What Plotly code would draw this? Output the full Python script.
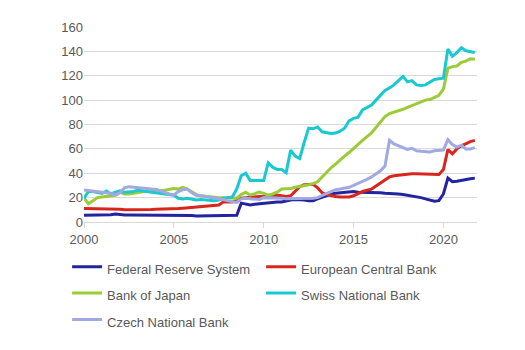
import plotly.graph_objects as go

# Quarterly observations, 2000 Q1 .. 2021 Q4 (central bank assets, % of GDP)
quarters = [2000 + q / 4 for q in range(88)]

fed = [5.5, 5.5, 5.5, 5.5, 5.5, 5.5, 6.0, 6.5, 6.0, 5.8, 5.8, 5.8,
       5.8, 5.8, 5.8, 5.8, 5.8, 5.8, 5.8, 5.8, 5.7, 5.7, 5.7, 5.7,
       5.3, 5.0, 5.0, 5.0, 5.2, 5.0, 5.0, 5.0, 5.0, 5.0, 5.5, 15.5,
       14.5, 14.0, 14.5, 15.0, 15.0, 15.5, 16.0, 16.5, 16.5, 17.5, 18.0, 18.5,
       18.5, 18.0, 17.5, 17.5, 19.0, 20.5, 22.0, 23.0, 23.5, 24.0, 24.5, 25.0,
       25.0, 24.5, 24.5, 24.5, 24.5, 24.0, 24.0, 23.5, 23.5, 23.0, 23.0, 22.5,
       22.0, 21.5, 21.0, 20.0, 19.0, 18.0, 17.0, 17.5, 23.0, 36.0, 33.0, 33.5,
       34.3, 35.0, 35.5, 36.0]

ecb = [11.0, 11.0, 11.0, 11.0, 11.0, 11.0, 11.0, 10.5, 10.5, 10.0, 10.0, 9.8,
       10.0, 10.2, 10.2, 10.2, 10.5, 10.5, 10.8, 10.5, 10.8, 11.0, 11.3, 11.6,
       12.0, 12.3, 12.6, 12.9, 13.2, 13.5, 14.0, 16.5, 16.5, 16.5, 17.5, 19.5,
       20.0, 20.5, 21.0, 21.0, 21.0, 21.5, 21.5, 22.0, 21.5, 21.0, 21.5, 25.0,
       29.0, 30.5, 31.0, 31.0, 28.0, 24.0, 22.5, 21.5, 21.0, 20.5, 20.2, 20.5,
       21.5, 23.5, 25.0, 26.0, 27.0, 29.5, 32.0, 34.5, 37.0, 38.0, 38.5, 39.0,
       39.5, 39.5, 39.5, 39.5, 39.5, 39.5, 39.0, 39.0, 43.0, 59.5, 56.0, 60.0,
       62.5, 64.5, 66.0, 67.0]

boj = [19.5, 15.0, 17.5, 20.0, 20.5, 21.0, 21.5, 22.0, 24.5, 23.0, 23.0, 23.5,
       24.5, 25.0, 25.0, 25.5, 26.5, 25.5, 26.0, 27.0, 27.5, 27.0, 28.5, 27.0,
       24.5, 22.5, 21.5, 21.0, 20.5, 20.0, 20.0, 20.0, 20.0, 20.0, 19.5, 22.5,
       24.5, 22.0, 23.0, 24.5, 23.5, 22.0, 23.0, 24.5, 27.0, 27.0, 27.5, 28.5,
       29.0, 29.5, 30.5, 31.5, 33.0, 37.0, 41.0, 44.5, 47.5, 51.0, 54.0, 57.0,
       60.5, 64.0, 67.0, 70.0, 73.0, 77.5, 82.0, 86.5, 89.0, 90.0, 91.0, 92.5,
       94.0, 95.5, 97.5, 99.0, 100.0, 100.5, 102.0, 104.0, 109.0, 126.0, 127.5, 128.0,
       131.0, 132.0, 134.0, 133.5]

snb = [19.5, 25.0, 25.0, 24.0, 23.5, 25.5, 23.0, 24.5, 25.5, 24.5, 24.5, 25.0,
       26.0, 25.5, 25.5, 25.0, 24.5, 23.5, 23.5, 23.0, 22.0, 19.5, 18.8, 19.5,
       18.5, 18.0, 18.5, 18.0, 17.8, 17.5, 18.0, 19.5, 20.0, 20.5, 27.0, 38.0,
       40.0, 34.0, 34.0, 34.0, 34.0, 48.5, 45.0, 43.0, 43.0, 40.5, 59.0, 54.0,
       52.0, 65.0, 77.0, 76.5, 78.0, 74.0, 73.0, 72.6, 73.0, 74.5, 77.0, 83.0,
       85.0, 86.0, 92.0, 94.0, 96.0, 100.0, 104.0, 108.0, 110.0, 112.5, 116.0, 119.5,
       115.0, 116.0, 112.5, 112.0, 112.5, 114.5, 117.0, 117.5, 118.0, 142.0, 136.0, 139.0,
       143.0, 140.5, 139.5, 139.0]

cnb = [26.3, 26.0, 25.5, 25.0, 24.5, 24.0, 23.0, 22.5, 24.0, 28.0, 29.0, 28.5,
       28.0, 27.5, 27.0, 27.0, 26.8, 25.5, 24.0, 23.0, 22.2, 25.0, 26.5, 27.0,
       24.0, 22.0, 21.5, 21.0, 20.5, 20.0, 19.5, 18.5, 17.5, 16.5, 16.0, 19.0,
       19.5, 19.0, 18.5, 18.5, 20.0, 20.0, 20.0, 19.5, 19.5, 19.0, 19.0, 19.5,
       19.5, 19.5, 19.5, 19.5, 20.0, 22.0, 23.5, 25.0, 26.5, 27.0, 27.5, 28.5,
       30.0, 31.5, 33.0, 35.0, 37.0, 39.5, 42.0, 46.0, 67.0, 64.0, 62.5, 60.5,
       59.5, 60.5, 58.5, 58.0, 57.5, 57.5, 58.5, 59.0, 59.0, 67.5, 63.5, 61.5,
       63.0, 60.0, 60.0, 61.0]

series_names = ["Federal Reserve System", "European Central Bank", "Bank of Japan",
                "Swiss National Bank", "Czech National Bank"]
series_values = [fed, ecb, boj, snb, cnb]
series_colors = ["#2324A0", "#D9261C", "#9BCB36", "#19C9D0", "#A1A9E2"]

x_ticks = [2000, 2005, 2010, 2015, 2020]
y_ticks = [0, 20, 40, 60, 80, 100, 120, 140, 160]

FONT = "Liberation Sans, Arial, sans-serif"
TXT = "#595959"

fig = go.Figure()
for name, vals, col in zip(series_names, series_values, series_colors):
    fig.add_trace(go.Scatter(x=quarters, y=vals, mode="lines",
                             name=f"<span style='font-size:13px'>{name}</span>",
                             line=dict(color=col, width=3)))

fig.update_layout(
    width=525, height=350,
    margin=dict(l=84, r=48, t=27, b=124),
    paper_bgcolor="white", plot_bgcolor="white",
    font=dict(family=FONT, size=13, color=TXT),
    showlegend=True,
    legend=dict(orientation="h", xref="paper", yref="paper",
                x=-0.043, y=-0.136, xanchor="left", yanchor="top",
                entrywidth=149, entrywidthmode="pixels",
                font=dict(family=FONT, size=18, color=TXT),
                itemwidth=30, tracegroupgap=0),
    xaxis=dict(range=[2000, 2021.87], tickvals=x_ticks, ticktext=[str(v) for v in x_ticks],
               showgrid=False, zeroline=False, showline=True, linecolor="#D9D9D9",
               linewidth=1, ticks="outside", ticklen=5, tickcolor="#D9D9D9",
               tickfont=dict(family=FONT, size=13, color=TXT)),
    yaxis=dict(range=[0, 160], tickvals=y_ticks, showgrid=True, gridcolor="#D9D9D9",
               gridwidth=1, zeroline=False, showline=False, ticks="",
               tickfont=dict(family=FONT, size=13, color=TXT)),
)

fig.write_html("out.html")
